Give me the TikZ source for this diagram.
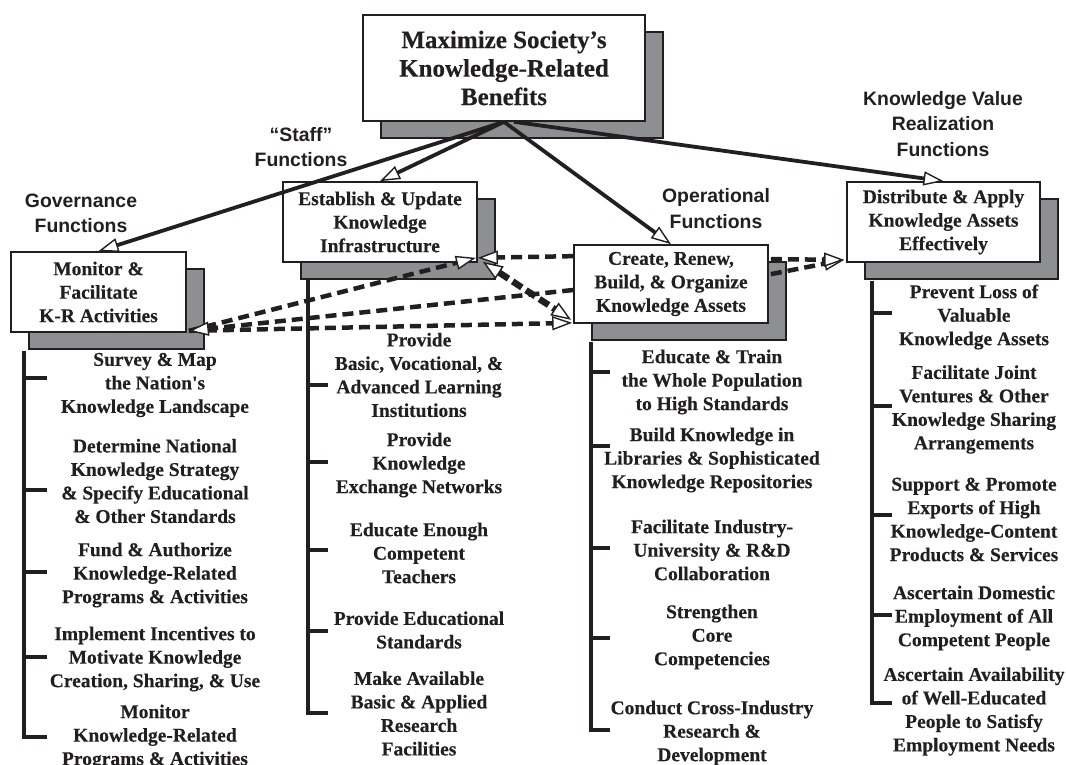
\documentclass[tikz,border=0pt]{standalone}
\usepackage{fontspec}
\setmainfont{Liberation Serif}[BoldFeatures={FakeBold=0.3}]
\newfontfamily\labfont{Liberation Sans}
\usetikzlibrary{arrows.meta,shadows,calc}
\definecolor{ink}{RGB}{35,31,32}
\definecolor{shade}{RGB}{142,143,147}
\begin{document}
\begin{tikzpicture}[x=1pt,y=-1pt,line join=miter,color=ink,
  box/.style={draw=ink,fill=white,line width=1.7pt,align=center,inner sep=0pt,
    text=ink,font=\fontsize{19.5}{23.5}\selectfont\bfseries,
    drop shadow={shadow xshift=18pt,shadow yshift=-17pt,fill=shade,draw=ink,line width=1.7pt,opacity=1}},
  item/.style={align=center,inner sep=0pt,text=ink,font=\fontsize{19.5}{23.5}\selectfont\bfseries},
  lab/.style={align=center,inner sep=0pt,text=ink,font=\labfont\bfseries\fontsize{19.4}{25.5}\selectfont},
  solidarrow/.style={draw=ink,line width=3.8pt,-{Triangle[fill=white,length=20pt,width=14pt,line width=1.4pt]}},
  dasharrow/.style={draw=ink,line width=4.5pt,dash pattern=on 11pt off 6pt,-{Triangle[fill=white,length=20pt,width=14pt,line width=1.4pt]}},
  thickdash/.style={draw=ink,line width=6.5pt,dash pattern=on 11pt off 5pt,{Triangle[fill=white,length=20pt,width=15pt,line width=1.4pt]}-{Triangle[fill=white,length=20pt,width=15pt,line width=1.4pt]}},
  trunk/.style={draw=ink,line width=4.2pt}]
\useasboundingbox (0,0) rectangle (1066,765);

% section labels
\node[lab] (lg) at (81,213.5) {Governance\\Functions};
\node[lab] (ls) at (301,147) {“Staff”\\Functions};
\node[lab] (lo) at (716,208.5) {Operational\\Functions};
\node[lab] (lv) at (943,124) {Knowledge Value\\Realization\\Functions};

% boxes
\node[box,minimum width=282pt,minimum height=106pt,font=\fontsize{25}{28.5}\selectfont\bfseries] (top) at (504,68) {Maximize Society’s\\Knowledge-Related\\Benefits};
\node[box,minimum width=175pt,minimum height=80pt] (mon) at (98.5,292) {Monitor \&\\Facilitate\\K-R Activities};
\node[box,minimum width=194pt,minimum height=80pt] (est) at (380,222) {Establish \& Update\\Knowledge\\Infrastructure};
\node[box,minimum width=194pt,minimum height=78pt] (cre) at (671,284) {Create, Renew,\\Build, \& Organize\\Knowledge Assets};
\node[box,minimum width=193pt,minimum height=80pt] (dis) at (943.5,222) {Distribute \& Apply\\Knowledge Assets\\Effectively};

% trunks and ticks
\draw[trunk] ([xshift=14pt,yshift=-18pt]mon.south west) |- (47,737);
\foreach \y in {378,490,572,657} \draw[trunk] (25,\y) -- (47,\y);
\draw[trunk] ([xshift=26pt,yshift=-17pt]est.south west) |- (328,713);
\foreach \y in {385,462,550,631} \draw[trunk] (309,\y) -- (328,\y);
\draw[trunk] ([xshift=18pt,yshift=-18pt]cre.south west) |- (610,730);
\foreach \y in {372,446,548,638} \draw[trunk] (592,\y) -- (610,\y);
\draw[trunk] ([xshift=26pt,yshift=-18pt]dis.south west) |- (892,703);
\foreach \y in {313,406,515,615} \draw[trunk] (873,\y) -- (892,\y);

% governance items
\node[item] (g1) at (155,385) {Survey \& Map\\the Nation\textquotesingle s\\Knowledge Landscape};
\node[item] (g2) at (155,481) {Determine National\\Knowledge Strategy\\\& Specify Educational\\\& Other Standards};
\node[item] (g3) at (155,575) {Fund \& Authorize\\Knowledge-Related\\Programs \& Activities};
\node[item] (g4) at (155,659) {Implement Incentives to\\Motivate Knowledge\\Creation, Sharing, \& Use};
\node[item] (g5) at (155,737) {Monitor\\Knowledge-Related\\Programs \& Activities};

% staff items
\node[item] (s1) at (419,375) {Provide\\Basic, Vocational, \&\\Advanced Learning\\Institutions};
\node[item] (s2) at (419,465) {Provide\\Knowledge\\Exchange Networks};
\node[item] (s3) at (419,553) {Educate Enough\\Competent\\Teachers};
\node[item] (s4) at (419,630) {Provide Educational\\Standards};
\node[item] (s5) at (419,713.5) {Make Available\\Basic \& Applied\\Research\\Facilities};

% operational items
\node[item] (o1) at (712,382) {Educate \& Train\\the Whole Population\\to High Standards};
\node[item] (o2) at (712,460) {Build Knowledge in\\Libraries \& Sophisticated\\Knowledge Repositories};
\node[item] (o3) at (712,550) {Facilitate Industry-\\University \& R\&D\\Collaboration};
\node[item] (o4) at (712,637) {Strengthen\\Core\\Competencies};
\node[item] (o5) at (712,733) {Conduct Cross-Industry\\Research \&\\Development};

% value items
\node[item] (v1) at (974,317) {Prevent Loss of\\Valuable\\Knowledge Assets};
\node[item] (v2) at (974,409.5) {Facilitate Joint\\Ventures \& Other\\Knowledge Sharing\\Arrangements};
\node[item] (v3) at (974,519.5) {Support \& Promote\\Exports of High\\Knowledge-Content\\Products \& Services};
\node[item] (v4) at (974,618) {Ascertain Domestic\\Employment of All\\Competent People};
\node[item] (v5) at (974,711.5) {Ascertain Availability\\of Well-Educated\\People to Satisfy\\Employment Needs};

% solid arrows
\draw[solidarrow] (top.south) -- (mon.north);
\draw[solidarrow] (top.south) -- (est.north);
\draw[solidarrow] (top.south) -- (cre.north);
\draw[solidarrow] ([xshift=10pt]top.south) -- (dis.north);

% dashed arrows
\coordinate (mc) at ($(mon.south east)+(2,-2)$);
\coordinate (ec) at ($(est.south east)+(0,-5)$);
\coordinate (ec2) at ($(est.south east)+(-2,-5)$);
\coordinate (ec3) at ($(est.south east)+(5,-1)$);
\coordinate (c1) at ($(cre.north west)+(0,12)$);
\coordinate (c2) at ($(cre.west)+(0,6)$);
\coordinate (c3) at ($(cre.south west)+(-1,-1)$);
\coordinate (c4) at ($(cre.south west)+(-2,-4)$);
\coordinate (r1) at ($(cre.north east)+(2,15)$);
\coordinate (r2) at ($(cre.north east)+(2,30)$);
\coordinate (d1) at ($(dis.south west)+(-2,-3)$);

\draw[dasharrow] (mc) -- (ec2);
\draw[dasharrow] (mc) -- (c3);
\draw[dasharrow] (c2) -- (mc);
\draw[dasharrow] (c1) -- (ec);
\draw[thickdash] (ec3) -- (c4);
\draw[dasharrow] (r2) -- (d1);
\draw[dasharrow] (r1) -- (d1);
\end{tikzpicture}
\end{document}
